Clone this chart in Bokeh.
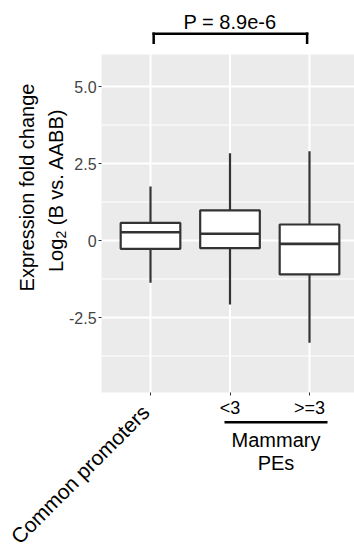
import numpy as np
from bokeh.plotting import figure
from bokeh.models import FixedTicker, Label, Arrow, Range1d
from bokeh.embed import file_html
from bokeh.resources import INLINE

# ---------------- data ----------------
categories = ["Common promoters", "<3", ">=3"]
cat_pos = [1, 2, 3]
whisker_low = [-1.37, -2.08, -3.32]
q1 = [-0.27, -0.25, -1.10]
median = [0.27, 0.22, -0.11]
q3 = [0.57, 0.98, 0.52]
whisker_high = [1.75, 2.83, 2.90]
y_ticks = [-2.5, 0.0, 2.5, 5.0]
y_tick_labels = ["-2.5", "0", "2.5", "5.0"]
y_minor = [-3.75, -1.25, 1.25, 3.75]
group_label = ["Mammary", "PEs"]
p_value_text = "P = 8.9e-6"
y_title_1 = "Expression fold change"
y_title_2 = ["Log", "2", "(B vs. AABB)"]

# panel extent (data units)
PANEL_X = (0.384, 3.62)
PANEL_Y = (-4.935, 6.04)

# ---------------- layout ----------------
W, H = 354, 548
PX_X = 79.5   # px per category
PX_Y = 30.8   # px per unit
X0 = 1 - 150 / PX_X
X1 = X0 + W / PX_X
Y1 = 240 / PX_Y
Y0 = Y1 - H / PX_Y

def fx(px):
    return X0 + px / PX_X

def fy(py):
    return Y1 - py / PX_Y

FONT = "Liberation Sans"
DARK = "#333333"

p = figure(width=W, height=H, x_range=Range1d(X0, X1), y_range=Range1d(Y0, Y1),
           output_backend="svg", toolbar_location=None,
           min_border_left=0, min_border_right=0, min_border_top=0,
           min_border_bottom=0)
p.background_fill_color = "white"
p.border_fill_color = "white"
p.outline_line_color = None
p.grid.visible = False

# panel background + grid
p.quad(left=PANEL_X[0], right=PANEL_X[1], bottom=PANEL_Y[0], top=PANEL_Y[1],
       fill_color="#EBEBEB", line_color=None)
p.segment(x0=PANEL_X[0], x1=PANEL_X[1], y0=y_minor, y1=y_minor,
          line_color="white", line_width=1)
p.segment(x0=PANEL_X[0], x1=PANEL_X[1], y0=y_ticks, y1=y_ticks,
          line_color="white", line_width=2)
p.segment(x0=cat_pos, x1=cat_pos, y0=PANEL_Y[0], y1=PANEL_Y[1],
          line_color="white", line_width=2)

# axes (placed at the panel edges)
p.xaxis.ticker = FixedTicker(ticks=cat_pos)
p.xaxis.major_label_overrides = {c: "" for c in cat_pos}
p.xaxis.fixed_location = PANEL_Y[0]
p.xaxis.bounds = PANEL_X
p.yaxis.ticker = FixedTicker(ticks=y_ticks)
p.yaxis.major_label_overrides = dict(zip(y_ticks, y_tick_labels))
p.yaxis.fixed_location = PANEL_X[0]
p.yaxis.bounds = PANEL_Y
for ax in (p.xaxis, p.yaxis):
    ax.axis_line_color = None
    ax.major_tick_line_color = DARK
    ax.major_tick_line_width = 1
    ax.major_tick_out = 3
    ax.major_tick_in = 0
    ax.minor_tick_out = 0
    ax.minor_tick_in = 0
    ax.major_label_text_font = FONT
    ax.major_label_text_font_size = "16px"
    ax.major_label_text_color = "#444444"
    ax.major_label_standoff = 2

# boxplots
xs = np.array(cat_pos, dtype=float)
p.segment(x0=xs, y0=q3, x1=xs, y1=whisker_high, line_color=DARK, line_width=2.2)
p.segment(x0=xs, y0=q1, x1=xs, y1=whisker_low, line_color=DARK, line_width=2.2)
p.vbar(x=xs, top=q3, bottom=q1, width=0.75, fill_color="white",
       line_color=DARK, line_width=2.2)
p.segment(x0=xs - 0.375, y0=median, x1=xs + 0.375, y1=median,
          line_color=DARK, line_width=2.6)

# significance bracket
by, bt = fy(33.3), fy(42.3)
bx0, bx1 = 1.04, 2.97
for (a, b, c, d) in [(bx0, by, bx1, by), (bx0, by, bx0, bt), (bx1, by, bx1, bt)]:
    p.add_layout(Arrow(end=None, x_start=a, y_start=b, x_end=c, y_end=d,
                       line_color="black", line_width=2.5, line_cap="square"))
p.add_layout(Label(x=2, y=fy(21), text=p_value_text, text_font=FONT,
                   text_font_size="20px", text_align="center",
                   text_baseline="alphabetic", text_color="black"))

# x labels
p.add_layout(Label(x=fx(137), y=fy(400), text=categories[0], angle=np.pi / 4,
                   text_font=FONT, text_font_size="21px", text_align="right",
                   text_baseline="top", text_color="black"))
for xc, t in zip(cat_pos[1:], categories[1:]):
    p.add_layout(Label(x=xc, y=fy(407), text=t, text_font=FONT,
                       text_font_size="18px", text_align="center",
                       text_baseline="alphabetic", text_color="black"))
p.add_layout(Arrow(end=None, x_start=fx(224), y_start=fy(421.7), x_end=fx(327),
                   y_end=fy(421.7), line_color="black", line_width=2.5))
for t, yy in zip(group_label, [439, 462]):
    p.add_layout(Label(x=fx(275.5), y=fy(yy), text=t, text_font=FONT,
                       text_font_size="20px", text_align="center",
                       text_baseline="alphabetic", text_color="black"))

# y axis title
p.add_layout(Label(x=fx(26), y=fy(187), text=y_title_1, angle=np.pi / 2,
                   text_font=FONT, text_font_size="20px", text_align="center",
                   text_baseline="alphabetic", text_color="black"))
start = 271.5
p.add_layout(Label(x=fx(55.5), y=fy(start), text=y_title_2[0], angle=np.pi / 2,
                   text_font=FONT, text_font_size="20px", text_align="left",
                   text_baseline="alphabetic", text_color="black"))
p.add_layout(Label(x=fx(60), y=fy(start - 33.4), text=y_title_2[1], angle=np.pi / 2,
                   text_font=FONT, text_font_size="14px", text_align="left",
                   text_baseline="alphabetic", text_color="black"))
p.add_layout(Label(x=fx(55.5), y=fy(start - 33.4 - 7.8 - 5.6), text=y_title_2[2],
                   angle=np.pi / 2, text_font=FONT, text_font_size="20px",
                   text_align="left", text_baseline="alphabetic", text_color="black"))

open("out.html", "w").write(file_html(p, INLINE))
